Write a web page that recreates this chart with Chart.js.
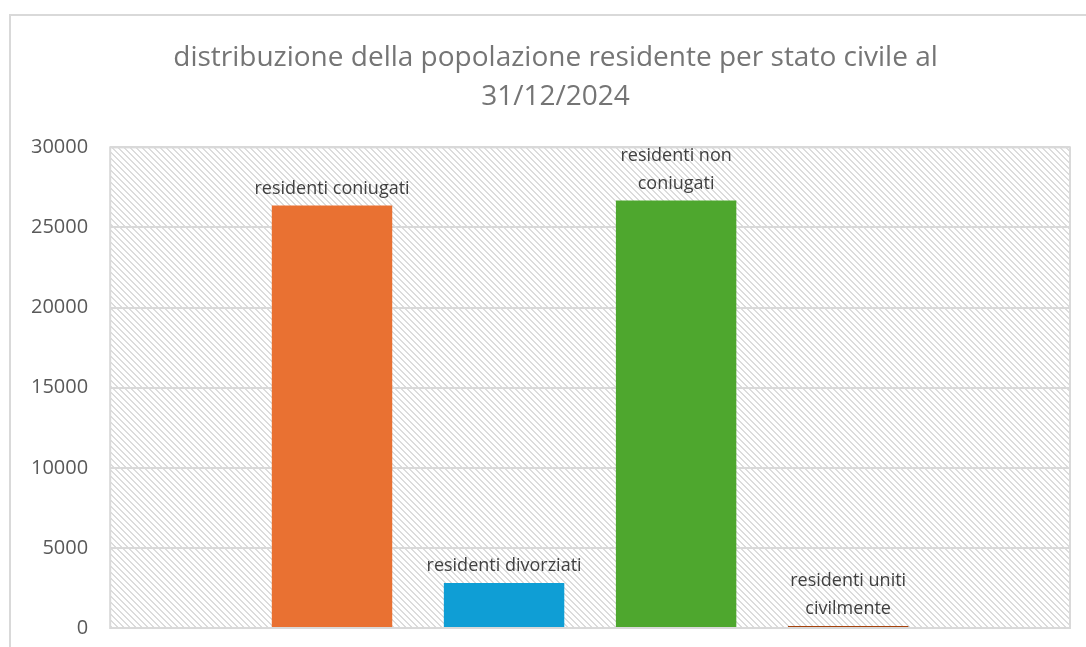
<!DOCTYPE html>
<html><head><meta charset="utf-8">
<script src="https://cdn.jsdelivr.net/npm/chart.js@4/dist/chart.umd.min.js"></script>
<style>
html,body{margin:0;padding:0;background:#fff;overflow:hidden;width:1086px;height:647px;}
#frame{position:absolute;left:9px;top:14px;width:1200px;height:800px;border:2px solid #d9d9d9;box-sizing:border-box;}
#wrap{position:absolute;left:0;top:0;width:1110px;height:662px;}
</style></head>
<body>
<div id="frame"></div>
<div id="wrap"><canvas id="c"></canvas></div>
<script>
const categories = [""];
const seriesNames = ["residenti coniugati","residenti divorziati","residenti non coniugati","residenti uniti civilmente"];
const labelLines = [["residenti coniugati"],["residenti divorziati"],["residenti non","coniugati"],["residenti uniti","civilmente"]];
const values = [26380, 2810, 26690, 130];
const colors = ["#e97132","#0f9ed5","#4ea72e","#a5420d"];
const titleLines = ["distribuzione della popolazione residente per stato civile al","31/12/2024"];
const yTicks = [0,5000,10000,15000,20000,25000,30000];

function makePattern(){
  const p=document.createElement('canvas'); p.width=6; p.height=6;
  const g=p.getContext('2d'); g.fillStyle='#fff'; g.fillRect(0,0,6,6);
  g.fillStyle='#dcdcdc';
  for(let y=0;y<6;y++){ for(let x=0;x<6;x++){ const d=((x-y)%6+6)%6; if(d===0||d===1) g.fillRect(x,y,1,1);} }
  return g.createPattern(p,'repeat');
}

const bgPlugin={id:'bg',afterLayout(chart){
  if(chart.titleBlock){ chart.titleBlock.left += 32; chart.titleBlock.width -= 32; }
},beforeDraw(chart){
  const {ctx,chartArea:a}=chart; ctx.save();
  ctx.fillStyle=makePattern(); ctx.fillRect(a.left,a.top,a.right-a.left,a.bottom-a.top);
  ctx.restore();
},beforeDatasetsDraw(chart){
  const {ctx,chartArea:a}=chart; ctx.save();
  ctx.strokeStyle='#d9d9d9'; ctx.lineWidth=2;
  ctx.strokeRect(a.left,a.top,a.right-a.left,a.bottom-a.top);
  ctx.restore();
},afterDatasetsDraw(chart){
  const {ctx}=chart; ctx.save();
  ctx.font='18px "Open Sans"'; ctx.fillStyle='#404040'; ctx.textAlign='center'; ctx.textBaseline='bottom';
  chart.data.datasets.forEach((ds,i)=>{
    const el=chart.getDatasetMeta(i).data[0];
    const lines=labelLines[i]; const lh=28;
    for(let k=0;k<lines.length;k++){
      ctx.fillText(lines[k], el.x, el.y-8-(lines.length-1-k)*lh);
    }
  });
  ctx.restore();
}};

new Chart(document.getElementById('c'),{
  type:'bar',
  data:{labels:categories,datasets:seriesNames.map((n,i)=>({label:n,data:[values[i]],backgroundColor:colors[i],categoryPercentage:0.717,barPercentage:0.7}))},
  options:{
    responsive:true,maintainAspectRatio:false,animation:false,
    layout:{padding:{left:9,right:40,top:0,bottom:0}},
    plugins:{legend:{display:false},tooltip:{enabled:false},
      title:{display:true,text:titleLines,color:'#757575',font:{family:'"Open Sans"',size:28,weight:'normal',lineHeight:1.4},padding:{top:38,bottom:31}}},
    scales:{
      x:{display:false},
      y:{min:0,max:30000,afterBuildTicks(ax){ax.ticks=yTicks.map(v=>({value:v}));},
        grid:{color:'#d9d9d9',lineWidth:2,drawTicks:false},border:{display:false},
        ticks:{color:'#595959',font:{family:'"Open Sans"',size:20},padding:22,callback:v=>String(v)}}
    }
  },
  plugins:[bgPlugin]
});
</script>
</body></html>
